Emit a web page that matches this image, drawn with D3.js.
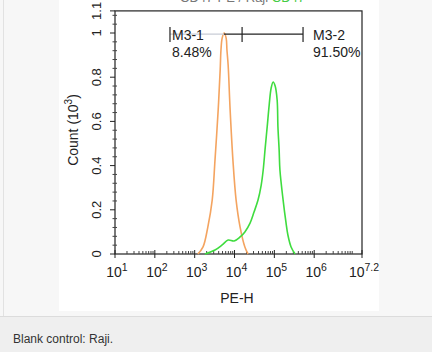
<!DOCTYPE html>
<html>
<head>
<meta charset="utf-8">
<script src="https://d3js.org/d3.v7.min.js"></script>
<style>
  body { margin: 0; background: #f7f7f7; font-family: "Liberation Sans", Arial, sans-serif; }
  svg { display: block; }
  .tick-label { font-size: 13px; fill: #222; }
</style>
</head>
<body>
<script>
// ---------------------------------------------------------------
// data (PE-H given as log10 exponent, count in 10^3)
// ---------------------------------------------------------------
var controlLogPE = [3.08, 3.21, 3.33, 3.44, 3.51, 3.59, 3.64, 3.66, 3.69, 3.74, 3.79, 3.81, 3.84, 3.89, 3.96, 4.04, 4.14, 4.26, 4.34];
var controlCount = [0, 0.032, 0.122, 0.244, 0.425, 0.652, 0.833, 0.923, 0.977, 1.0, 0.977, 0.923, 0.855, 0.652, 0.425, 0.244, 0.122, 0.032, 0];

var stainLogPE = [3.26, 3.51, 3.69, 3.84, 3.99, 4.14, 4.26, 4.39, 4.49, 4.59, 4.67, 4.72, 4.77, 4.82, 4.87, 4.92, 4.97, 5.02, 5.07, 5.09, 5.12, 5.14, 5.22, 5.29, 5.34, 5.42, 5.52];
var stainCount = [0, 0.018, 0.041, 0.063, 0.059, 0.077, 0.100, 0.140, 0.190, 0.244, 0.312, 0.380, 0.480, 0.575, 0.674, 0.751, 0.778, 0.760, 0.697, 0.575, 0.471, 0.380, 0.244, 0.145, 0.086, 0.032, 0];

var yTicks = [0, 0.2, 0.4, 0.6, 0.8, 1, 1.1];
var yTickLabels = ["0", "0.2", "0.4", "0.6", "0.8", "1", "1.1"];
var xTickExp = [1, 2, 3, 4, 5, 6, 7.2];

var gateEdgesLog = [2.38, 4.19, 5.72];
var gateNames = ["M3-1", "M3-2"];
var gatePercents = ["8.48%", "91.50%"];

// ---------------------------------------------------------------
var W = 432, H = 352;
var svg = d3.select("body").append("svg").attr("width", W).attr("height", H);

// page panels
svg.append("rect").attr("x", 0).attr("y", 0).attr("width", W).attr("height", 316).attr("fill", "#f7f7f7");
svg.append("rect").attr("x", 0).attr("y", 316).attr("width", W).attr("height", 36).attr("fill", "#efefef");
svg.append("line").attr("x1", 0).attr("x2", W).attr("y1", 316.5).attr("y2", 316.5).attr("stroke", "#dcdcdc");
svg.append("line").attr("x1", 3.5).attr("x2", 3.5).attr("y1", 0).attr("y2", 316).attr("stroke", "#e2e2e2");
svg.append("rect").attr("x", 59).attr("y", 0).attr("width", 320).attr("height", 311).attr("fill", "#ffffff");

svg.append("text").attr("x", 13).attr("y", 343).style("font-family", "'Liberation Sans', Arial, sans-serif")
  .style("font-size", "12px").attr("fill", "#333").text("Blank control: Raji.");

// scales
var x = d3.scaleLog().domain([10, Math.pow(10, 7.2)]).range([115, 362]);
var y = d3.scaleLinear().domain([0, 1.1]).range([254, 10.9]);

var g = svg.append("g");

// title, cut off at the top edge as in the source image
var title = g.append("text").attr("x", 180).attr("y", 2).style("font-size", "13px").attr("fill", "#777");
title.append("tspan").text("CD47-PE / Raji ");
title.append("tspan").attr("fill", "#44cc44").text("CD47");

// frame
g.append("rect").attr("x", x.range()[0]).attr("y", y(1.1)).attr("width", x.range()[1] - x.range()[0])
  .attr("height", y(0) - y(1.1)).attr("fill", "none").attr("stroke", "#222").attr("stroke-width", 1.2);

// y axis ticks
yTicks.forEach(function (v, i) {
  g.append("line").attr("x1", 110).attr("x2", 115).attr("y1", y(v)).attr("y2", y(v)).attr("stroke", "#222");
  g.append("text").attr("class", "tick-label")
    .attr("transform", "translate(101," + y(v) + ") rotate(-90)")
    .attr("text-anchor", "middle").text(yTickLabels[i]);
});
d3.range(0.04, 1.1, 0.04).forEach(function (v) {
  if (Math.abs(v / 0.2 - Math.round(v / 0.2)) < 1e-6) return;
  g.append("line").attr("x1", 112.5).attr("x2", 117).attr("y1", y(v)).attr("y2", y(v)).attr("stroke", "#444");
});

// x axis ticks
xTickExp.forEach(function (e) {
  var px = x(Math.pow(10, e));
  g.append("line").attr("x1", px).attr("x2", px).attr("y1", 250).attr("y2", 258).attr("stroke", "#222");
  var t = g.append("text").attr("class", "tick-label").attr("x", px + 2).attr("y", 277)
    .attr("text-anchor", "middle").style("font-size", "14px");
  t.append("tspan").text("10");
  t.append("tspan").attr("dy", -6).style("font-size", "10.5px").text(e === 7.2 ? "7.2" : String(e));
});
for (var d = 1; d < 8; d++) {
  for (var m = 2; m <= 9; m++) {
    var v = m * Math.pow(10, d);
    if (v > Math.pow(10, 7.2)) continue;
    g.append("line").attr("x1", x(v)).attr("x2", x(v)).attr("y1", 251).attr("y2", 254).attr("stroke", "#444");
  }
}

// axis titles
g.append("text").attr("x", 237).attr("y", 303).attr("text-anchor", "middle")
  .style("font-size", "14px").attr("fill", "#222").text("PE-H");
var yl = g.append("text").attr("transform", "translate(78,130) rotate(-90)").attr("text-anchor", "middle")
  .style("font-size", "14px").attr("fill", "#222");
yl.append("tspan").text("Count (10");
yl.append("tspan").attr("dy", -6).style("font-size", "10px").text("3");
yl.append("tspan").attr("dy", 6).text(")");

// histograms
var line = d3.line()
  .x(function (p) { return x(Math.pow(10, p[0])); })
  .y(function (p) { return y(p[1]); })
  .curve(d3.curveCatmullRom);

g.append("path").datum(d3.zip(controlLogPE, controlCount)).attr("d", line)
  .attr("fill", "none").attr("stroke", "#f4a460").attr("stroke-width", 1.6);
g.append("path").datum(d3.zip(stainLogPE, stainCount)).attr("d", line)
  .attr("fill", "none").attr("stroke", "#3fdc3f").attr("stroke-width", 1.6);

// gate markers
var gy = y(0.995);
var gx = gateEdgesLog.map(function (e) { return x(Math.pow(10, e)); });
g.append("line").attr("x1", gx[0]).attr("x2", 224).attr("y1", gy).attr("y2", gy).attr("stroke", "#c8ccd6").attr("stroke-width", 1.2);
g.append("line").attr("x1", 224).attr("x2", gx[2]).attr("y1", gy).attr("y2", gy).attr("stroke", "#222").attr("stroke-width", 1.2);
gx.forEach(function (px) {
  g.append("line").attr("x1", px).attr("x2", px).attr("y1", gy - 7).attr("y2", gy + 8).attr("stroke", "#222").attr("stroke-width", 1.2);
});
[gx[0] + 2, gx[2] + 10].forEach(function (px, i) {
  var lab = g.append("text").attr("x", px).attr("y", 40).style("font-size", "14px").attr("fill", "#222");
  lab.append("tspan").text(gateNames[i]);
  lab.append("tspan").attr("x", px).attr("y", 57).text(gatePercents[i]);
});
</script>
</body>
</html>
